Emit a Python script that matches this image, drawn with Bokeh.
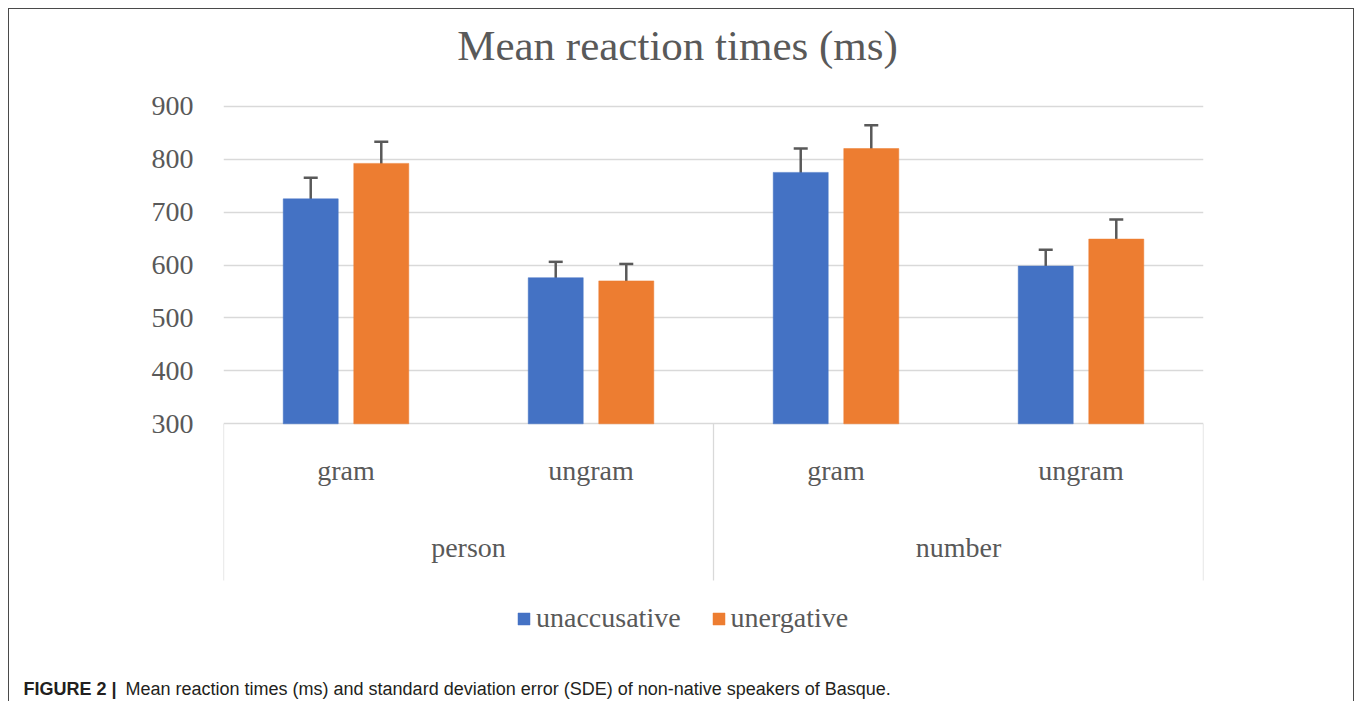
from bokeh.plotting import figure
from bokeh.layouts import column
from bokeh.models import (FactorRange, Range1d, FixedTicker, ColumnDataSource,
                          Whisker, TeeHead, Label)
from bokeh.transform import dodge
from bokeh.core.properties import value
from bokeh.embed import file_html
from bokeh.resources import INLINE

# ---------------- data ----------------
groups = ["person", "number"]
conditions = ["gram", "ungram"]
series_names = ["unaccusative", "unergative"]
unaccusative = [725, 576, 775, 598]
unergative = [792, 570, 820, 649]
unaccusative_err = [40, 30, 45, 31]
unergative_err = [41, 32, 44, 37]
y_ticks = [300, 400, 500, 600, 700, 800, 900]
title_text = "Mean reaction times (ms)"
caption_bold = "FIGURE 2 |"
caption_text = "Mean reaction times (ms) and standard deviation error (SDE) of non-native speakers of Basque."

BASE = 300
BLUE = "#4472C4"
ORANGE = "#ED7D31"
GREY_TXT = "#595959"
GRID = "#D9D9D9"
SERIF = "Liberation Serif"
FS = "28px"

factors = [(g, c) for g in groups for c in conditions]

src = ColumnDataSource(dict(
    x=factors,
    cond=[c for g in groups for c in conditions],
    unacc=unaccusative,
    unerg=unergative,
    unacc_lo=[v - e for v, e in zip(unaccusative, unaccusative_err)],
    unacc_hi=[v + e for v, e in zip(unaccusative, unaccusative_err)],
    unerg_lo=[v - e for v, e in zip(unergative, unergative_err)],
    unerg_hi=[v + e for v, e in zip(unergative, unergative_err)],
))

W = 1344
H_MAIN = 664
H_CAP = 28
FRAME_LEFT = 214
FRAME_W = 980

x_range = FactorRange(*factors, range_padding=0, group_padding=0,
                      subgroup_padding=0, factor_padding=0)
p = figure(x_range=x_range, y_range=Range1d(-171.7, 1082.7),
           width=W, height=H_MAIN, output_backend="svg", toolbar_location=None,
           x_axis_location=None,
           min_border_left=FRAME_LEFT, min_border_right=W - FRAME_LEFT - FRAME_W,
           min_border_top=0, min_border_bottom=0)
p.outline_line_color = None
p.background_fill_color = "white"
p.border_fill_color = "white"

# y axis
p.yaxis.ticker = FixedTicker(ticks=y_ticks)
p.yaxis.axis_line_color = None
p.yaxis.major_tick_line_color = None
p.yaxis.minor_tick_line_color = None
p.yaxis.major_tick_out = 0
p.yaxis.minor_tick_out = 0
p.yaxis.major_label_standoff = 30
p.yaxis.major_label_text_font = SERIF
p.yaxis.major_label_text_font_size = FS
p.yaxis.major_label_text_color = GREY_TXT
p.xgrid.visible = False
p.ygrid.ticker = FixedTicker(ticks=y_ticks)
p.ygrid.grid_line_color = GRID
p.ygrid.grid_line_width = 1.3

# bars
OFF = 0.144
BW = 0.2245
p.vbar(x=dodge("x", -OFF, range=x_range), top="unacc", bottom=BASE, width=BW,
       source=src, fill_color=BLUE, line_color=BLUE, line_width=0.5,
       legend_label=series_names[0])
p.vbar(x=dodge("x", OFF, range=x_range), top="unerg", bottom=BASE, width=BW,
       source=src, fill_color=ORANGE, line_color=ORANGE, line_width=0.5,
       legend_label=series_names[1])

# error bars
for off, lo, hi in [(-OFF, "unacc_lo", "unacc_hi"), (OFF, "unerg_lo", "unerg_hi")]:
    w = Whisker(base=dodge("x", off, range=x_range), lower=lo, upper=hi, source=src,
                line_color=GREY_TXT, line_width=2.5,
                upper_head=TeeHead(size=14, line_color=GREY_TXT, line_width=2.5),
                lower_head=TeeHead(size=14, line_color=GREY_TXT, line_width=2.5))
    p.add_layout(w)

# category separators (Excel-style multi-level axis)
SEP_BOTTOM = 4
sep_left = ColumnDataSource(dict(x=[(g, conditions[0]) for g in groups]))
sep_right = ColumnDataSource(dict(x=[(groups[-1], conditions[-1])]))
p.segment(x0=dodge("x", -0.5, range=x_range), y0=BASE,
          x1=dodge("x", -0.5, range=x_range), y1=SEP_BOTTOM,
          source=sep_left, line_color=GRID, line_width=1.3)
p.segment(x0=dodge("x", 0.5, range=x_range), y0=BASE,
          x1=dodge("x", 0.5, range=x_range), y1=SEP_BOTTOM,
          source=sep_right, line_color=GRID, line_width=1.3)

# category labels
p.text(x="x", y=212, text="cond", source=src, text_align="center",
       text_baseline="middle", text_font=value(SERIF), text_font_size=FS,
       text_color=GREY_TXT)
p.text(x=groups, y=[66, 66], text=groups, text_align="center",
       text_baseline="middle", text_font=value(SERIF), text_font_size=FS,
       text_color=GREY_TXT)

# title
p.add_layout(Label(x=454, y=628, x_units="screen", y_units="screen", text=title_text,
                   text_align="center", text_baseline="middle", text_font=SERIF,
                   text_font_size="43px", text_color=GREY_TXT))

# legend
lg = p.legend[0]
lg.orientation = "horizontal"
lg.location = (293, 39)
lg.border_line_color = None
lg.background_fill_alpha = 0
lg.label_text_font = SERIF
lg.label_text_font_size = FS
lg.label_text_color = GREY_TXT
lg.glyph_width = 15
lg.glyph_height = 15
lg.label_standoff = 5
lg.spacing = 30
lg.padding = 0
lg.margin = 0

# caption strip
cap = figure(x_range=Range1d(0, W), y_range=Range1d(0, H_CAP), width=W, height=H_CAP,
             output_backend="svg", toolbar_location=None,
             x_axis_location=None, y_axis_location=None,
             min_border_left=0, min_border_right=0, min_border_top=0, min_border_bottom=0)
cap.outline_line_color = None
cap.grid.visible = False
cap.background_fill_color = "white"
cap.border_fill_color = "white"
try:
    cap.frame_align = False
    p.frame_align = False
except Exception:
    pass
CAP_Y = 13
cap.text(x=[14], y=[CAP_Y], text=[caption_bold], text_align="left",
         text_baseline="middle", text_font=value("Liberation Sans"),
         text_font_style="bold", text_font_size="18px", text_color="#231F20")
cap.text(x=[116], y=[CAP_Y], text=[caption_text], text_align="left",
         text_baseline="middle", text_font=value("Liberation Sans"),
         text_font_size="18px", text_color="#231F20")

layout = column(p, cap, spacing=0)
layout.styles = {"margin-left": "8px", "margin-top": "8px",
                 "border-top": "1px solid #4a4a4a", "border-left": "1px solid #4a4a4a",
                 "border-right": "1px solid #4a4a4a"}

open("out.html", "w").write(file_html(layout, INLINE))
